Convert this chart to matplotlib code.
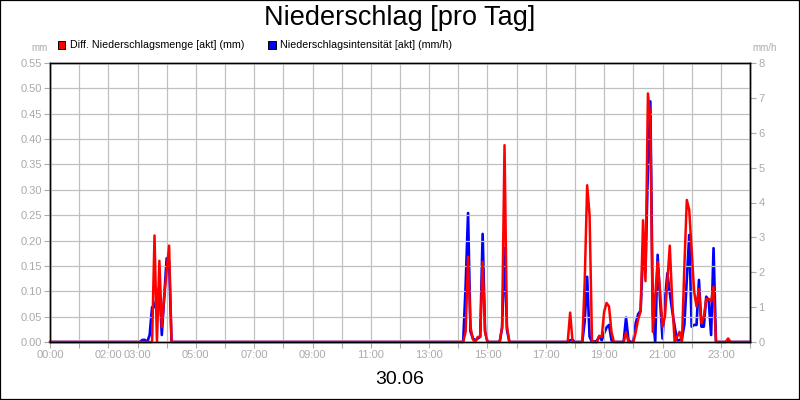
import matplotlib
matplotlib.use("Agg")
import matplotlib.pyplot as plt
from matplotlib.patches import Rectangle

plt.rcParams['font.family'] = ['Liberation Sans', 'DejaVu Sans']

# ---- data ----
red_times = ["00:00", "03:30", "03:35", "03:40", "03:45", "03:50", "03:55", "04:00", "04:05", "04:10",
             "14:10", "14:15", "14:20", "14:25", "14:30", "14:35", "14:40", "14:45", "14:50", "14:55", "15:00",
             "15:25", "15:30", "15:35", "15:40", "15:45",
             "17:45", "17:50", "17:55",
             "18:15", "18:20", "18:25", "18:30", "18:35",
             "18:45", "18:50", "18:55", "19:00", "19:05", "19:10", "19:15", "19:20",
             "19:40", "19:45", "19:50",
             "20:00", "20:05", "20:10", "20:15", "20:20", "20:25", "20:30", "20:35", "20:40", "20:45",
             "20:50", "20:55", "21:00", "21:05", "21:10", "21:15", "21:20", "21:25", "21:30", "21:35",
             "21:40", "21:45", "21:50", "21:55", "22:00", "22:05", "22:10", "22:15", "22:20", "22:25",
             "22:30", "22:35", "22:40", "22:45", "22:50",
             "23:10", "23:15", "23:20", "24:00"]
red_values = [0, 0, 0.21, 0, 0.16, 0.03, 0.09, 0.14, 0.19, 0,
              0, 0.02, 0.168, 0.03, 0.005, 0, 0.01, 0.01, 0.158, 0.02, 0,
              0, 0.03, 0.388, 0.03, 0,
              0, 0.058, 0,
              0, 0.12, 0.309, 0.25, 0,
              0, 0.012, 0.01, 0.06, 0.077, 0.07, 0.02, 0,
              0, 0.019, 0,
              0, 0.02, 0.045, 0.06, 0.24, 0.12, 0.49, 0.44, 0.02, 0.09,
              0.158, 0.10, 0.03, 0.05, 0.12, 0.19, 0.08, 0, 0.01, 0.02,
              0, 0.15, 0.28, 0.26, 0.18, 0.10, 0.07, 0.105, 0.037, 0.05,
              0.085, 0.085, 0.08, 0.109, 0,
              0, 0.007, 0, 0]

blue_times = ["00:00", "03:05", "03:10", "03:15", "03:20", "03:25", "03:30", "03:35", "03:40", "03:45",
              "03:50", "03:55", "04:00", "04:05", "04:10",
              "14:10", "14:15", "14:20", "14:25", "14:30", "14:35", "14:40", "14:45", "14:50", "14:55", "15:00",
              "15:25", "15:30", "15:35", "15:40", "15:45",
              "17:45", "17:50", "17:55", "18:00",
              "18:15", "18:20", "18:25", "18:30", "18:35",
              "18:45", "18:50", "18:55", "19:00", "19:05", "19:10", "19:15", "19:20",
              "19:40", "19:45", "19:50", "19:55",
              "20:00", "20:05", "20:10", "20:15", "20:20", "20:25", "20:30", "20:35", "20:40", "20:45",
              "20:50", "20:55", "21:00", "21:05", "21:10", "21:15", "21:20", "21:25", "21:30", "21:35",
              "21:40", "21:45", "21:50", "21:55", "22:00", "22:05", "22:10", "22:15", "22:20", "22:25",
              "22:30", "22:35", "22:40", "22:45", "22:50", "24:00"]
blue_values = [0, 0, 0.06, 0.06, 0, 0.2, 1.0, 1.0, 1.3, 1.6,
               0.2, 1.3, 2.4, 2.3, 0,
               0, 1.6, 3.7, 0.3, 0.1, 0.05, 0.1, 0.15, 3.1, 0.3, 0,
               0, 0.4, 2.69, 0.35, 0,
               0, 0.05, 0.06, 0,
               0, 0.6, 1.87, 0.15, 0,
               0.03, 0.17, 0.05, 0.25, 0.42, 0.49, 0.05, 0,
               0, 0.7, 0.05, 0,
               0, 0.55, 0.8, 0.9, 2.6, 2.0, 5.0, 6.9, 0.8, 0,
               2.5, 1.2, 0.1, 1.2, 1.97, 1.4, 0.9, 0.45, 0.05, 0.05,
               0.1, 0.5, 1.8, 3.07, 0.44, 0.49, 0.49, 1.78, 0.44, 0.44,
               1.3, 1.2, 0.2, 2.69, 0, 0]

x_tick_labels = ["00:00", "", "02:00", "03:00", "", "05:00", "", "07:00", "", "09:00", "", "11:00", "",
                 "13:00", "", "15:00", "", "17:00", "", "19:00", "", "21:00", "", "23:00", ""]
left_ticks = [0.00, 0.05, 0.10, 0.15, 0.20, 0.25, 0.30, 0.35, 0.40, 0.45, 0.50, 0.55]
right_ticks = [0, 1, 2, 3, 4, 5, 6, 7, 8]

title = "Niederschlag [pro Tag]"
date_label = "30.06"
red_label = "Diff. Niederschlagsmenge [akt] (mm)"
blue_label = "Niederschlagsintensität [akt] (mm/h)"


def to_hours(t):
    h, m = t.split(":")
    return int(h) + int(m) / 60.0


red_x = [to_hours(t) for t in red_times]
blue_x = [to_hours(t) for t in blue_times]

GRAY = '#aaaaaa'
GRID = '#c0c0c0'

fig = plt.figure(figsize=(8, 4), dpi=100)
fig.patch.set_facecolor('white')
ax = fig.add_axes([50 / 800, 58 / 400, 700 / 800, 279 / 400])
ax2 = ax.twinx()

ax.set_xlim(0, 24)
ax.set_ylim(0, 0.55)
ax2.set_ylim(0, 8)

ax.set_xticks(list(range(25)))
ax.set_xticklabels(x_tick_labels)
ax.set_yticks(left_ticks)
ax.set_yticklabels([f"{v:.2f}" for v in left_ticks])
ax2.set_yticks(right_ticks)
ax2.set_yticklabels([str(v) for v in right_ticks])

ax.grid(True, color=GRID, linewidth=0.9)
ax.set_axisbelow(True)

for a in (ax, ax2):
    a.tick_params(colors=GRAY, labelcolor=GRAY, labelsize=8, length=4, width=0.8, pad=2)
    for s in a.spines.values():
        s.set_color('black')
        s.set_linewidth(1.0)

# blue on right axis, drawn below red
ax.set_zorder(ax2.get_zorder() + 1)
ax.patch.set_visible(False)
ax2.plot(blue_x, blue_values, color='#0000ff', linewidth=1.9, solid_joinstyle='round')
ax.plot(red_x, red_values, color='#ff0000', linewidth=1.8, solid_joinstyle='round', clip_on=False)

# texts
fig.text(0.5, 1 - 18 / 400, title, ha='center', va='center', fontsize=19.5, color='black')
fig.text(0.5, 1 - 380 / 400, date_label, ha='center', va='center', fontsize=14, color='black')
fig.text(40 / 800, 1 - 48 / 400, "mm", ha='center', va='center', fontsize=7, color=GRAY)
fig.text(765 / 800, 1 - 48 / 400, "mm/h", ha='center', va='center', fontsize=7, color=GRAY)

# legend
fig.add_artist(Rectangle((58 / 800, 1 - 48.5 / 400), 7.5 / 800, 7.5 / 400, transform=fig.transFigure,
                         facecolor='#ff0000', edgecolor='black', linewidth=0.7))
fig.text(70 / 800, 1 - 44.5 / 400, red_label, ha='left', va='center', fontsize=7.7, color='black')
fig.add_artist(Rectangle((268 / 800, 1 - 48.5 / 400), 7.5 / 800, 7.5 / 400, transform=fig.transFigure,
                         facecolor='#0000ff', edgecolor='black', linewidth=0.7))
fig.text(280 / 800, 1 - 44.5 / 400, blue_label, ha='left', va='center', fontsize=7.7, color='black')

# outer frame
fig.add_artist(Rectangle((0, 0), 1, 1, transform=fig.transFigure, fill=False,
                         edgecolor='black', linewidth=1.6))

fig.savefig("out.png", dpi=100)
